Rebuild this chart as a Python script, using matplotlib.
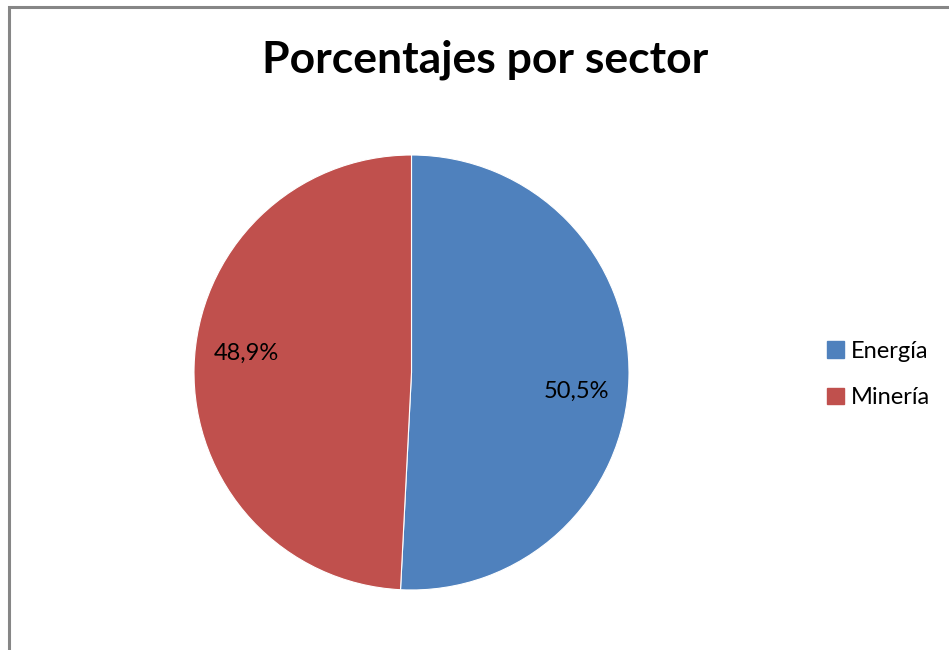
import matplotlib
matplotlib.use("Agg")
import matplotlib.pyplot as plt
from matplotlib.patches import Rectangle, Patch
import numpy as np

title = "Porcentajes por sector"
categories = ["Energía", "Minería"]
values = [50.5, 48.9]
labels = ["50,5%", "48,9%"]
colors = ["#4F81BD", "#C0504D"]

plt.rcParams['font.family'] = ['Lato', 'DejaVu Sans']

W, H = 949, 650
fig = plt.figure(figsize=(W / 100, H / 100), dpi=100)
fig.patch.set_facecolor("white")

# border (top and left visible)
fig.add_artist(Rectangle((9 / W, -0.1), 1.2, 1 - 7.5 / H + 0.1, transform=fig.transFigure,
                         fill=False, edgecolor="#868686", linewidth=2.2))

cx, cy, r = 411.5, 372.5, 217.5
ax = fig.add_axes([(cx - r) / W, 1 - (cy + r) / H, 2 * r / W, 2 * r / H])
wedges, _ = ax.pie(values, colors=colors, startangle=90, counterclock=False,
                   wedgeprops=dict(edgecolor="white", linewidth=0.8))
ax.set_xlim(-1, 1)
ax.set_ylim(-1, 1)
ax.set_aspect("auto")
ax.axis("off")

for w, lab in zip(wedges, labels):
    mid = (w.theta1 + w.theta2) / 2 - 5.2
    d = 0.765
    ax.text(d * np.cos(np.radians(mid)), d * np.sin(np.radians(mid)), lab,
            ha="center", va="center", fontsize=17, color="black")

fig.text(485 / W, 1 - 60 / H, title, ha="center", va="center",
         fontsize=32, fontweight="bold")

handles = [Patch(facecolor=c, edgecolor=c) for c in colors]
fig.legend(handles, categories, loc="center left",
           bbox_to_anchor=(827 / W, 1 - 374.5 / H), frameon=False,
           fontsize=17, handlelength=0.7, handleheight=0.7,
           handletextpad=0.3, labelspacing=1.1, borderaxespad=0,
           borderpad=0)

fig.savefig("out.png", dpi=100)
